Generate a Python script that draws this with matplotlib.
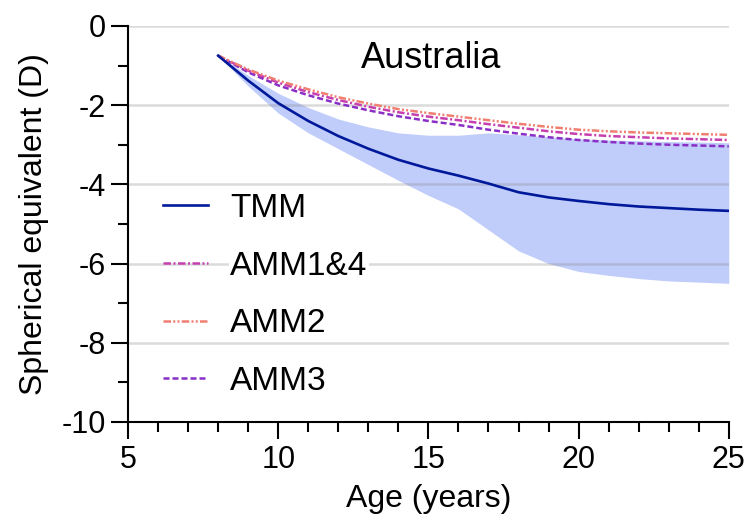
import matplotlib
matplotlib.use('Agg')
import matplotlib.pyplot as plt
from matplotlib.ticker import MultipleLocator

plt.rcParams['font.family'] = ['Liberation Sans', 'DejaVu Sans']
plt.rcParams['axes.unicode_minus'] = False

# Data
age = [8, 9, 10, 11, 12, 13, 14, 15, 16, 17, 18, 19, 20, 21, 22, 23, 24, 25]
tmm = [-0.75, -1.38, -1.95, -2.40, -2.78, -3.10, -3.38, -3.60, -3.78, -3.98,
       -4.20, -4.33, -4.42, -4.50, -4.56, -4.60, -4.64, -4.67]
tmm_upper = [-0.75, -1.25, -1.70, -2.06, -2.35, -2.55, -2.70, -2.76, -2.76, -2.70,
             -2.75, -2.80, -2.85, -2.88, -2.90, -2.92, -2.93, -2.95]
tmm_lower = [-0.75, -1.52, -2.20, -2.70, -3.10, -3.50, -3.90, -4.28, -4.62, -5.15,
             -5.68, -6.00, -6.20, -6.30, -6.38, -6.44, -6.47, -6.50]
amm14 = [-0.75, -1.13, -1.43, -1.67, -1.87, -2.04, -2.18, -2.29, -2.38, -2.48,
         -2.57, -2.66, -2.73, -2.78, -2.81, -2.84, -2.86, -2.88]
amm2 = [-0.75, -1.10, -1.38, -1.60, -1.80, -1.96, -2.10, -2.20, -2.29, -2.38,
        -2.47, -2.55, -2.62, -2.66, -2.69, -2.71, -2.73, -2.75]
amm3 = [-0.75, -1.17, -1.50, -1.75, -1.96, -2.13, -2.28, -2.40, -2.50, -2.62,
        -2.72, -2.81, -2.88, -2.93, -2.97, -3.00, -3.02, -3.04]

fig = plt.figure(figsize=(7.49, 5.30), dpi=100)
ax = fig.add_axes([0.171, 0.204, 0.802, 0.747])

# band + grid (grid sits above the band, below the lines)
ax.fill_between(age, tmm_lower, tmm_upper, color='#c0ccfa', lw=0, zorder=0.3)
ax.set_axisbelow(True)
ax.yaxis.grid(True, which='major', color='#888888', alpha=0.3, lw=1.8)

ax.plot(age, tmm, color='#00189a', lw=1.9, label='TMM', zorder=3)
ax.plot(age, amm14, color='#c63fae', lw=1.8, dashes=(3, 1, 0.8, 1), label='AMM1&4', zorder=2.8)
ax.plot(age, amm2, color='#f07f72', lw=1.8, dashes=(3, 0.9, 0.8, 0.9, 0.8, 0.9), label='AMM2', zorder=2.9)
ax.plot(age, amm3, color='#8a2fc6', lw=1.8, dashes=(2.4, 1.2), label='AMM3', zorder=2.7)

ax.set_xlim(5, 25)
ax.set_ylim(-10, 0)
ax.xaxis.set_major_locator(MultipleLocator(5))
ax.xaxis.set_minor_locator(MultipleLocator(1))
ax.yaxis.set_major_locator(MultipleLocator(2))
ax.yaxis.set_minor_locator(MultipleLocator(1))

for s in ['top', 'right']:
    ax.spines[s].set_visible(False)
for s in ['left', 'bottom']:
    ax.spines[s].set_linewidth(1.5)
    ax.spines[s].set_color('black')

ax.tick_params(which='major', length=12, width=1.5, labelsize=22)
ax.tick_params(which='minor', length=7, width=1.5)
ax.tick_params(axis='x', which='major', pad=5)
ax.tick_params(axis='y', which='major', pad=4)

ax.set_xlabel('Age (years)', fontsize=23, labelpad=6)
ax.set_ylabel('Spherical equivalent (D)', fontsize=23, labelpad=9)

ax.text(0.504, 0.918, 'Australia', transform=ax.transAxes, ha='center', va='center',
        fontsize=26)

leg = ax.legend(loc='upper left', bbox_to_anchor=(0.058, 0.578), frameon=False,
                fontsize=24, handlelength=1.35, handletextpad=0.66, labelspacing=0.8,
                borderpad=0, borderaxespad=0)
# white patch behind each label, like the reference
for t in leg.get_texts():
    t.set_bbox(dict(facecolor='white', edgecolor='none', pad=1))

fig.savefig('out.png', dpi=100)
